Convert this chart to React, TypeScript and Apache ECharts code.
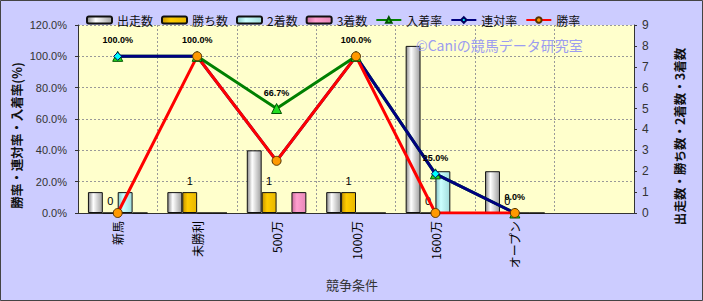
import React, { useEffect, useRef } from "react";
import * as echarts from "echarts";

const categories = ["新馬", "未勝利", "500万", "1000万", "1600万", "オープン", ""];
const starts = [1, 1, 3, 1, 8, 2, null];
const wins = [0, 1, 1, 1, 0, 0, null];
const seconds = [1, 0, 0, 0, 2, 0, null];
const thirds = [0, 0, 1, 0, 0, 0, null];
const placeRate = [100, 100, 66.7, 100, 25, 0, null];
const rentaiRate = [100, 100, 33.3, 100, 25, 0, null];
const winRate = [0, 100, 33.3, 100, 0, 0, null];
const leftAxis = { min: 0, max: 120, interval: 20 };
const rightAxis = { min: 0, max: 9, interval: 1 };

const CJK = "'Noto Sans CJK JP', sans-serif";
const LAT = "'Liberation Sans', Arial, sans-serif";

function grad(c0: string, c1: string, c2: string) {
  return new echarts.graphic.LinearGradient(0, 0, 1, 0, [
    { offset: 0, color: c0 },
    { offset: 0.35, color: c1 },
    { offset: 1, color: c2 },
  ]);
}

export default function App() {
  const ref = useRef<HTMLDivElement>(null);
  useEffect(() => {
    if (!ref.current) return;
    const chart = echarts.init(ref.current, null, { renderer: "svg" });
    const barBase = (name: string, data: any[], fill: any) => ({
      name,
      type: "bar",
      yAxisIndex: 1,
      data,
      barGap: "0%",
      barCategoryGap: "25%",
      itemStyle: { color: fill, borderColor: "#111", borderWidth: 1 },
    });
    chart.setOption({
      animation: false,
      backgroundColor: "#CCCCFF",
      textStyle: { fontFamily: CJK },
      grid: {
        left: 78,
        right: 69,
        top: 25,
        bottom: 88,
        show: true,
        backgroundColor: "#FFFFCC",
        borderWidth: 0,
      },
      legend: {
        left: 81,
        top: 9,
        itemWidth: 25,
        itemHeight: 7,
        itemGap: 8,
        textStyle: { fontSize: 12, color: "#111", fontFamily: CJK },
        data: ["出走数", "勝ち数", "2着数", "3着数", "入着率", "連対率", "勝率"],
      },
      xAxis: {
        type: "category",
        data: categories,
        boundaryGap: true,
        axisLine: { lineStyle: { color: "#333", width: 1 } },
        axisTick: { show: false },
        axisLabel: {
          interval: 0,
          rotate: 90,
          margin: 8,
          fontSize: 12,
          color: "#000",
          fontFamily: CJK,
        },
        splitLine: {
          show: true,
          interval: 0,
          lineStyle: { color: "#999", type: [2, 2], width: 1 },
        },
      },
      yAxis: [
        {
          type: "value",
          min: leftAxis.min,
          max: leftAxis.max,
          interval: leftAxis.interval,
          position: "left",
          axisLine: { show: true, lineStyle: { color: "#333" } },
          axisTick: { show: true, length: 3, lineStyle: { color: "#333" } },
          axisLabel: {
            margin: 11,
            fontSize: 11,
            color: "#333",
            fontFamily: LAT,
            formatter: (v: number) => v.toFixed(1) + "%",
          },
          splitLine: { show: true, lineStyle: { color: "#999", type: [2, 2] } },
        },
        {
          type: "value",
          min: rightAxis.min,
          max: rightAxis.max,
          interval: rightAxis.interval,
          position: "right",
          axisLine: { show: true, lineStyle: { color: "#333" } },
          axisTick: { show: true, length: 3, lineStyle: { color: "#333" } },
          axisLabel: { margin: 8, fontSize: 12, color: "#333", fontFamily: LAT },
          splitLine: { show: false },
        },
      ],
      series: [
        barBase("出走数", starts, grad("#8a8a8a", "#ffffff", "#a0a0a0")),
        {
          ...barBase("勝ち数", wins, grad("#c89600", "#ffcc00", "#e8b800")),
          label: {
            show: true,
            position: "top",
            distance: 6,
            fontSize: 11,
            color: "#000",
            fontFamily: LAT,
          },
        },
        barBase("2着数", seconds, grad("#86c6c6", "#ccffff", "#a2dcdc")),
        barBase("3着数", thirds, grad("#cc6f9f", "#ff9fcf", "#e888b8")),
        {
          name: "入着率",
          type: "line",
          yAxisIndex: 0,
          data: placeRate,
          symbol: "triangle",
          symbolSize: 10,
          lineStyle: { color: "#008000", width: 3 },
          itemStyle: { color: "#22DD22", borderColor: "#005500", borderWidth: 1 },
          label: {
            show: true,
            position: "top",
            distance: 6,
            fontSize: 9,
            fontWeight: "bold",
            color: "#000",
            fontFamily: LAT,
            formatter: (p: any) => Number(p.value).toFixed(1) + "%",
          },
        },
        {
          name: "連対率",
          type: "line",
          yAxisIndex: 0,
          data: rentaiRate,
          symbol: "diamond",
          symbolSize: 8,
          lineStyle: { color: "#000080", width: 3 },
          itemStyle: { color: "#00FFFF", borderColor: "#000060", borderWidth: 1 },
        },
        {
          name: "勝率",
          type: "line",
          yAxisIndex: 0,
          data: winRate,
          symbol: "circle",
          symbolSize: 9,
          lineStyle: { color: "#FF0000", width: 3 },
          itemStyle: { color: "#FF9900", borderColor: "#553300", borderWidth: 1 },
        },
      ],
      graphic: [
        {
          type: "text",
          x: 16.5,
          y: 135.5,
          rotation: Math.PI / 2,
          style: {
            text: "勝率・連対率・入着率(%)",
            font: `bold 12.5px ${CJK}`,
            fill: "#111",
            align: "center",
            verticalAlign: "middle",
          },
        },
        {
          type: "text",
          x: 679,
          y: 136.5,
          rotation: Math.PI / 2,
          style: {
            text: "出走数・勝ち数・2着数・3着数",
            font: `bold 12.5px ${CJK}`,
            fill: "#111",
            align: "center",
            verticalAlign: "middle",
          },
        },
        {
          type: "text",
          x: 352,
          y: 284,
          style: {
            text: "競争条件",
            font: `13px ${CJK}`,
            fill: "#333",
            align: "center",
            verticalAlign: "middle",
          },
        },
        {
          type: "text",
          x: 416,
          y: 45,
          z: 100,
          style: {
            text: "©Caniの競馬データ研究室",
            font: `14px ${CJK}`,
            fill: "#9C9CF0",
            align: "left",
            verticalAlign: "middle",
          },
        },
        {
          type: "rect",
          z: 100,
          shape: { x: 0.5, y: 0.5, width: 702, height: 300 },
          style: { fill: "none", stroke: "#444", lineWidth: 1 },
        },
      ],
    });
    return () => chart.dispose();
  }, []);
  return (
    <div
      ref={ref}
      style={{ position: "absolute", left: 0, top: 0, width: 703, height: 301 }}
    />
  );
}
